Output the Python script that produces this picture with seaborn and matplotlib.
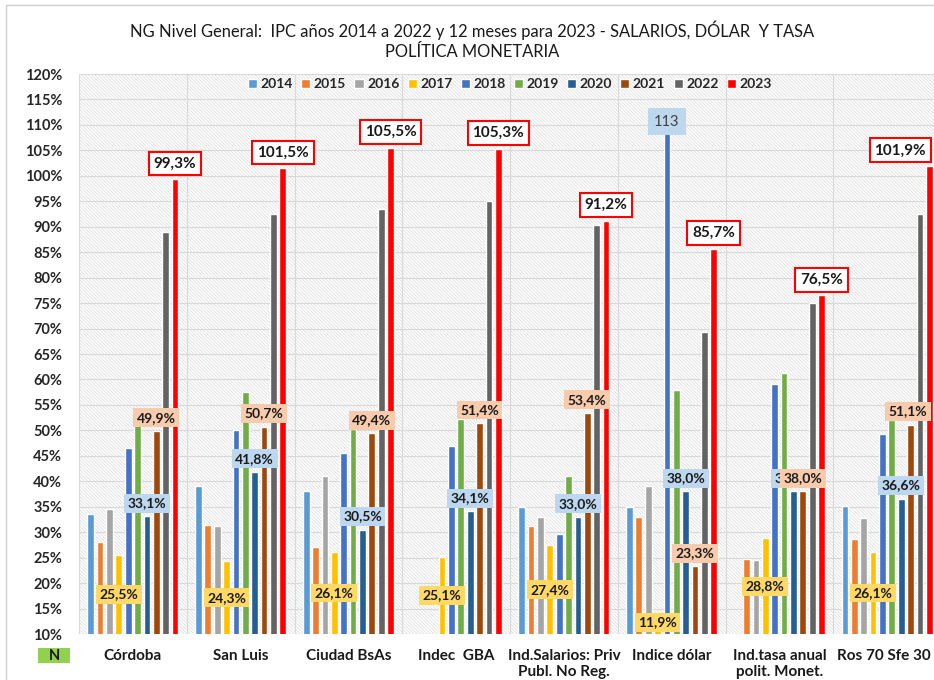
import numpy as np
import pandas as pd
import matplotlib
matplotlib.use("Agg")
import matplotlib.pyplot as plt
import seaborn as sns
from matplotlib.patches import Rectangle

# categories and yearly values (%), NaN = no data
categorias = ["Córdoba", "San Luis", "Ciudad BsAs", "Indec  GBA",
              "Ind.Salarios: Priv\nPubl. No Reg.", "Indice dólar",
              "Ind.tasa anual\npolit. Monet.", "Ros 70 Sfe 30"]
anios = ["2014", "2015", "2016", "2017", "2018", "2019", "2020", "2021", "2022", "2023"]

v2014 = [33.5, 39.0, 38.0, np.nan, 35.0, 35.0, np.nan, 35.2]
v2015 = [28.0, 31.5, 27.0, np.nan, 31.3, 33.0, 24.8, 28.6]
v2016 = [34.5, 31.3, 41.0, np.nan, 33.0, 39.0, 24.6, 32.8]
v2017 = [25.5, 24.3, 26.1, 25.1, 27.4, 11.9, 28.8, 26.1]
v2018 = [46.5, 50.0, 45.5, 47.0, 29.6, 113.0, 59.2, 49.3]
v2019 = [51.0, 57.5, 50.2, 52.3, 41.0, 58.0, 61.3, 52.0]
v2020 = [33.1, 41.8, 30.5, 34.1, 33.0, 38.0, 38.0, 36.6]
v2021 = [49.9, 50.7, 49.4, 51.4, 53.4, 23.3, 38.0, 51.1]
v2022 = [89.0, 92.5, 93.5, 95.1, 90.3, 69.3, 75.0, 92.5]
v2023 = [99.3, 101.5, 105.5, 105.3, 91.2, 85.7, 76.5, 101.9]

series = [v2014, v2015, v2016, v2017, v2018, v2019, v2020, v2021, v2022, v2023]
colores = ["#5B9BD5", "#ED7D31", "#A5A5A5", "#FFC000", "#4472C4",
           "#70AD47", "#255E91", "#9E480E", "#636363", "#FF0000"]

rows = []
for anio, vals in zip(anios, series):
    for cat, v in zip(categorias, vals):
        rows.append({"cat": cat, "anio": anio, "valor": v})
df = pd.DataFrame(rows)

sns.set_style("white")
plt.rcParams['font.family'] = ['Lato', 'DejaVu Sans']
plt.rcParams['hatch.linewidth'] = 0.5
plt.rcParams['hatch.color'] = '#d9d9d9'

W, H = 934, 680
fig = plt.figure(figsize=(W / 100, H / 100), dpi=100)
ax = fig.add_axes([79 / W, 1 - 634 / H, 862 / W, 560 / H])

# hatched plot area
ax.add_patch(Rectangle((0, 0), 1, 1, transform=ax.transAxes, facecolor="white",
                       edgecolor="#d9d9d9", hatch="\\" * 10, lw=0, zorder=0))

sns.barplot(data=df, x="cat", y="valor", hue="anio", hue_order=anios,
            order=categorias, palette=colores, width=0.87, gap=0.28,
            saturation=1, errorbar=None, ax=ax, zorder=2)

ax.set_ylim(10, 120)
ax.set_xlim(-0.5, len(categorias) - 0.5)
ax.set_yticks(np.arange(10, 121, 5))
ax.set_yticklabels([f"{t}%" for t in range(10, 121, 5)], fontsize=10.5, fontweight="bold")
ax.tick_params(axis="y", length=0, pad=12)
ax.set_xticks(range(len(categorias)))
ax.set_xticklabels([])
ax.tick_params(axis="x", length=0)
ax.set_xlabel("")
ax.set_ylabel("")
for s in ax.spines.values():
    s.set_visible(False)

for t in np.arange(10, 121, 5):
    ax.axhline(t, color="#d9d9d9", lw=0.8, zorder=1)
for b in np.arange(-0.5, len(categorias), 1):
    ax.axvline(b, color="#d9d9d9", lw=0.8, zorder=1)

# category names under the groups
textos = []
for j, cat in enumerate(categorias):
    textos.append(ax.text(j, -0.027, cat, transform=ax.get_xaxis_transform(),
                          ha="center", va="top", fontsize=11, fontweight="bold",
                          color="#1a1a1a", linespacing=1.15))

# data labels
def bar_map(container):
    out = {}
    for p in container.patches:
        xc = p.get_x() + p.get_width() / 2
        out[int(round(xc))] = xc
    return out

conts = ax.containers
for i, anio in enumerate(anios):
    pos = bar_map(conts[i])
    vals = series[i]
    for j, xc in pos.items():
        v = vals[j]
        if np.isnan(v):
            continue
        txt = f"{v:.1f}%".replace(".", ",")
        if anio == "2017":
            t = ax.text(xc, max((10 + v) / 2, 12.3), txt, ha="center", va="center",
                        fontsize=10, fontweight="bold", color="#1a1a1a", zorder=5,
                        bbox=dict(boxstyle="square,pad=0.25", fc="#FFD966", ec="none"))
        elif anio == "2018" and v > 100:
            t = ax.text(xc, v - 2.4, f"{v:.0f}", ha="center", va="center",
                        fontsize=10.5, color="#404040", zorder=5,
                        bbox=dict(boxstyle="square,pad=0.45", fc="#BDD7EE", ec="none"))
        elif anio == "2020":
            t = ax.text(xc, v + 2.6, txt, ha="center", va="center",
                        fontsize=10, fontweight="bold", color="#1a1a1a", zorder=5,
                        bbox=dict(boxstyle="square,pad=0.25", fc="#BDD7EE", ec="none"))
        elif anio == "2021":
            t = ax.text(xc, v + 2.6, txt, ha="center", va="center",
                        fontsize=10, fontweight="bold", color="#1a1a1a", zorder=6,
                        bbox=dict(boxstyle="square,pad=0.25", fc="#F8CBAD", ec="none"))
        elif anio == "2023":
            t = ax.text(xc, v + 3.1, txt, ha="center", va="center",
                        fontsize=11, fontweight="bold", color="#1a1a1a", zorder=6,
                        bbox=dict(boxstyle="square,pad=0.32", fc="white", ec="#FF0000", lw=1.5))
        else:
            continue
        textos.append(t)

ax.legend(loc="upper center", bbox_to_anchor=(0.50, 1.015), ncol=10, frameon=False,
          handlelength=0.65, handleheight=0.65, handletextpad=0.25,
          columnspacing=0.6, prop={"size": 10, "weight": "bold"})

fig.text(472 / W, 1 - 30 / H, "NG Nivel General:  IPC años 2014 a 2022 y 12 meses para 2023 - SALARIOS, DÓLAR  Y TASA",
         ha="center", va="center", fontsize=11.9, color="#1a1a1a")
fig.text(472 / W, 1 - 52 / H, "POLÍTICA MONETARIA", ha="center", va="center",
         fontsize=11.9, color="#1a1a1a")

fig.patches.append(Rectangle((38 / W, 1 - 663 / H), 32 / W, 15 / H, transform=fig.transFigure,
                             facecolor="#92D050", edgecolor="none"))
fig.text(54 / W, 1 - 655.5 / H, "N", ha="center", va="center", fontsize=10.5,
         fontweight="bold", color="#1a1a1a")

# outer chart frame
fig.patches.append(Rectangle((6 / W, -0.1), 1.0, 1 - 5 / H + 0.1, transform=fig.transFigure,
                             facecolor="none", edgecolor="#cfcfcf", lw=1))

# keep labels inside the chart, like the spreadsheet does
fig.canvas.draw()
rend = fig.canvas.get_renderer()
inv = ax.transData.inverted()
for t in textos:
    bb = t.get_window_extent(rend)
    if t.get_bbox_patch() is not None:
        bb = t.get_bbox_patch().get_window_extent(rend)
    over = bb.x1 - (W - 3)
    if over > 0:
        x0 = inv.transform((0, 0))[0]
        x1 = inv.transform((over, 0))[0]
        t.set_x(t.get_position()[0] - (x1 - x0))

fig.savefig("out.png", dpi=100)
